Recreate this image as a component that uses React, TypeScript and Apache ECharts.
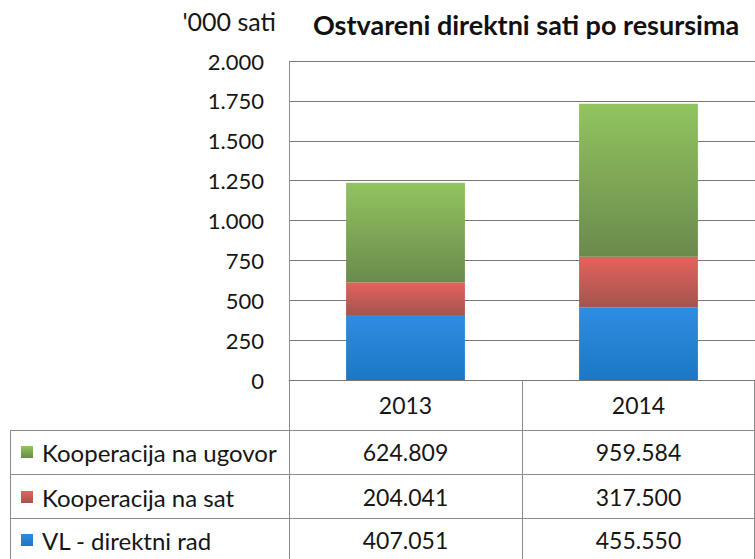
import React, { useEffect, useRef } from 'react';
import * as echarts from 'echarts';

const years = ['2013', '2014'];
const vlDirektniRad = [407.051, 455.55];
const kooperacijaNaSat = [204.041, 317.5];
const kooperacijaNaUgovor = [624.809, 959.584];
const seriesNames = ['Kooperacija na ugovor', 'Kooperacija na sat', 'VL - direktni rad'];
const yMin = 0;
const yMax = 2000;
const yInterval = 250;
const unitLabel = "'000 sati";
const titleText = 'Ostvareni direktni sati po resursima';

const FONT = 'Lato';
const TEXT = '#161616';

const grad = (top: string, bottom: string) =>
  new echarts.graphic.LinearGradient(0, 0, 0, 1, [
    { offset: 0, color: top },
    { offset: 1, color: bottom },
  ]);

const fmtAxis = (v: number) =>
  v >= 1000 ? Math.floor(v / 1000) + '.' + String(v % 1000).padStart(3, '0') : String(v);
const fmtTable = (v: number) => v.toFixed(3);

export default function App() {
  const ref = useRef<HTMLDivElement>(null);
  useEffect(() => {
    if (!ref.current) return;
    const chart = echarts.init(ref.current, undefined, { renderer: 'svg' });
    const green = () => grad('#92c45f', '#6a8a4d');
    const red = () => grad('#e4625c', '#a5544e');
    const blue = () => grad('#2f8ce1', '#1b78c6');
    const rowData = [kooperacijaNaUgovor, kooperacijaNaSat, vlDirektniRad];
    const rowColors = [green, red, blue];
    const rowCenters = [452, 497, 540];
    const offsets = [47, 92, 135];
    const lineColor = '#8a8a8a';

    const extraAxes = rowData.map((arr, k) => ({
      type: 'category',
      data: years,
      gridIndex: 0,
      position: 'bottom',
      offset: offsets[k],
      axisLine: { show: false },
      axisTick: { show: false },
      splitLine: { show: false },
      axisLabel: {
        fontFamily: FONT,
        fontSize: 23,
        color: TEXT,
        margin: 13,
        formatter: (_v: string, i: number) => fmtTable(arr[i]),
      },
    }));

    const graphics: any[] = [
      {
        type: 'text',
        x: 313,
        y: 24,
        style: { text: titleText, font: `bold 27px ${FONT}`, fill: '#111', verticalAlign: 'middle' },
      },
      {
        type: 'text',
        x: 276,
        y: 21,
        style: { text: unitLabel, font: `25px ${FONT}`, fill: TEXT, align: 'right', verticalAlign: 'middle' },
      },
      ...[430.5, 474.5, 518.5].map((y) => ({
        type: 'line',
        shape: { x1: 10, y1: y, x2: 755, y2: y },
        style: { stroke: lineColor, lineWidth: 1 },
      })),
      {
        type: 'line',
        shape: { x1: 10.5, y1: 430, x2: 10.5, y2: 559 },
        style: { stroke: lineColor, lineWidth: 1 },
      },
      {
        type: 'line',
        shape: { x1: 754.5, y1: 380, x2: 754.5, y2: 559 },
        style: { stroke: lineColor, lineWidth: 1 },
      },
      ...seriesNames.map((name, k) => ({
        type: 'group',
        children: [
          {
            type: 'rect',
            shape: { x: 21, y: rowCenters[k] - 6, width: 12, height: 12 },
            style: { fill: rowColors[k]() },
          },
          {
            type: 'text',
            x: 42,
            y: rowCenters[k],
            style: { text: name, font: `24px ${FONT}`, fill: TEXT, verticalAlign: 'middle' },
          },
        ],
      })),
    ];

    chart.setOption({
      animation: false,
      backgroundColor: '#ffffff',
      grid: { left: 289, top: 61, width: 476, height: 319, containLabel: false },
      xAxis: [
        {
          type: 'category',
          data: years,
          gridIndex: 0,
          position: 'bottom',
          axisLine: { show: true, lineStyle: { color: '#777', width: 1 } },
          axisTick: { show: true, interval: 0, length: 179, lineStyle: { color: lineColor, width: 1 } },
          axisLabel: { fontFamily: FONT, fontSize: 23, color: TEXT, margin: 13 },
          splitLine: { show: false },
        },
        ...extraAxes,
      ],
      yAxis: {
        type: 'value',
        min: yMin,
        max: yMax,
        interval: yInterval,
        axisLine: { show: true, lineStyle: { color: '#9a8a9c', width: 1 } },
        axisTick: { show: false },
        splitLine: { show: true, lineStyle: { color: '#777', width: 1 } },
        axisLabel: { fontFamily: FONT, fontSize: 22, color: TEXT, margin: 25, formatter: fmtAxis },
      },
      series: [
        {
          name: seriesNames[2],
          type: 'bar',
          stack: 'total',
          barWidth: '51%',
          data: vlDirektniRad,
          itemStyle: { color: blue() },
        },
        {
          name: seriesNames[1],
          type: 'bar',
          stack: 'total',
          data: kooperacijaNaSat,
          itemStyle: { color: red() },
        },
        {
          name: seriesNames[0],
          type: 'bar',
          stack: 'total',
          data: kooperacijaNaUgovor,
          itemStyle: { color: green() },
        },
      ],
      graphic: graphics,
    });
    return () => chart.dispose();
  }, []);
  return (
    <div
      ref={ref}
      style={{ position: 'fixed', left: 0, top: 0, width: 755, height: 559, background: '#fff' }}
    />
  );
}
